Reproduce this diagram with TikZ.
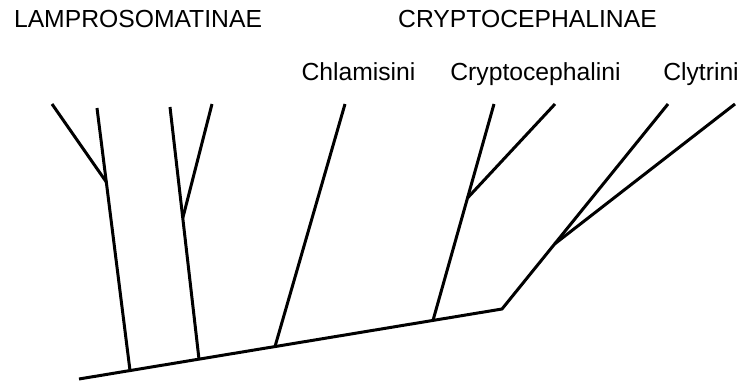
\documentclass[tikz,border=0pt]{standalone}
\usepackage{fontspec}
\setmainfont{Liberation Sans}
\begin{document}
\begin{tikzpicture}[x=1pt,y=-1pt,
  branch/.style={line width=3pt, line join=miter},
  lbl/.style={inner sep=0pt, anchor=base, font=\fontsize{24.7}{30}\selectfont}]
\useasboundingbox (0,0) rectangle (745,383);
% labels
\node[lbl] (lam) at (138,27) {LAMPROSOMATINAE};
\node[lbl] (cry) at (527.5,27) {CRYPTOCEPHALINAE};
\node[lbl] (chl) at (358.5,80) {Chlamisini};
\node[lbl] (cep) at (535.5,80) {Cryptocephalini};
\node[lbl] (cly) at (701,80) {Clytrini};
% coordinates
\coordinate (root) at (79,379);
\coordinate (b1) at (130,370.56);
\coordinate (b2) at (199,359.14);
\coordinate (b3) at (275,346.57);
\coordinate (b4) at (433,320.42);
\coordinate (bend) at (502,309);
\coordinate (f1) at (106.3,182);
\coordinate (f2) at (182.8,218);
\coordinate (f4) at (467.5,198);
\coordinate (f5) at (554.6,244);
\coordinate (t1a) at (52,104);
\coordinate (t1b) at (97,108);
\coordinate (t2a) at (170,107);
\coordinate (t2b) at (212,104);
\coordinate (t3) at (345,104);
\coordinate (t4a) at (494,104);
\coordinate (t4b) at (555,104);
\coordinate (t5a) at (668,104);
\coordinate (t5b) at (735,104);
% tree
\draw[branch] (root) -- (bend) -- (f5) -- (t5a);
\draw[branch] (f5) -- (t5b);
\draw[branch] (b1) -- (t1b);
\draw[branch] (f1) -- (t1a);
\draw[branch] (b2) -- (t2a);
\draw[branch] (f2) -- (t2b);
\draw[branch] (b3) -- (t3);
\draw[branch] (b4) -- (t4a);
\draw[branch] (f4) -- (t4b);
\end{tikzpicture}
\end{document}
